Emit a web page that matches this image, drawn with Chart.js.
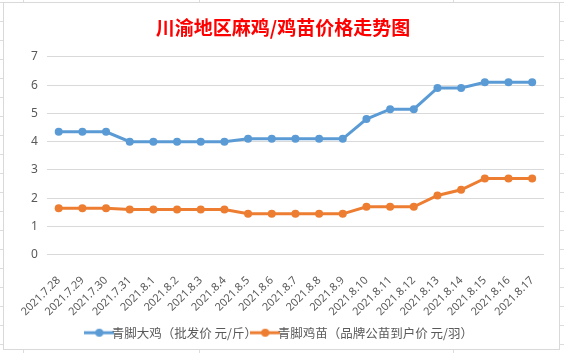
<!DOCTYPE html>
<html>
<head>
<meta charset="utf-8">
<script src="https://cdn.jsdelivr.net/npm/chart.js"></script>
<style>
  html, body { margin: 0; padding: 0; background: #fff; }
  body { width: 564px; height: 353px; position: relative; overflow: hidden;
    background-image: repeating-linear-gradient(to bottom, #dcdcdc 0, #dcdcdc 1px, transparent 1px, transparent 19px);
    background-position: 0 2px; }
  .vline { position: absolute; top: 0; width: 1px; height: 353px; background: #dcdcdc; }
  #box { position: absolute; left: 3px; top: 2px; width: 557px; height: 348px;
    background: #fff; border: 1px solid #d9d9d9; box-sizing: border-box; }
  canvas { display: block; }
</style>
</head>
<body>
<div class="vline" style="left:23px"></div>
<div class="vline" style="left:199px"></div>
<div class="vline" style="left:453px"></div>
<div id="box"><canvas id="c" width="555" height="346"></canvas></div>
<script>
const titleText = '川渝地区麻鸡/鸡苗价格走势图';
const dates = ['2021.7.28', '2021.7.29', '2021.7.30', '2021.7.31', '2021.8.1', '2021.8.2', '2021.8.3',
  '2021.8.4', '2021.8.5', '2021.8.6', '2021.8.7', '2021.8.8', '2021.8.9', '2021.8.10', '2021.8.11',
  '2021.8.12', '2021.8.13', '2021.8.14', '2021.8.15', '2021.8.16', '2021.8.17'];
const chickenName = '青脚大鸡（批发价 元/斤）';
const chickenPrice = [4.35, 4.35, 4.35, 4.0, 4.0, 4.0, 4.0, 4.0, 4.1, 4.1, 4.1, 4.1, 4.1,
  4.8, 5.15, 5.15, 5.9, 5.9, 6.1, 6.1, 6.1];
const chickName = '青脚鸡苗（品牌公苗到户价 元/羽）';
const chickPrice = [1.65, 1.65, 1.65, 1.6, 1.6, 1.6, 1.6, 1.6, 1.45, 1.45, 1.45, 1.45, 1.45,
  1.7, 1.7, 1.7, 2.1, 2.3, 2.7, 2.7, 2.7];
const yTicks = [0, 1, 2, 3, 4, 5, 6, 7];

const BLUE = '#5B9BD5', ORANGE = '#ED7D31';

// small line-with-dot legend marker, like the spreadsheet one
function marker(color) {
  const m = document.createElement('canvas');
  m.width = 30; m.height = 10;
  const g = m.getContext('2d');
  g.strokeStyle = color; g.lineWidth = 3;
  g.beginPath(); g.moveTo(0, 5); g.lineTo(30, 5); g.stroke();
  g.fillStyle = color;
  g.beginPath(); g.arc(15, 5, 4, 0, Math.PI * 2); g.fill();
  return m;
}

function series(label, data, color) {
  return {
    label: label,
    data: data,
    borderColor: color,
    backgroundColor: color,
    borderWidth: 3,
    pointRadius: 4,
    pointBorderWidth: 0,
    pointStyle: 'circle',
    tension: 0
  };
}

new Chart(document.getElementById('c'), {
  type: 'line',
  data: {
    labels: dates,
    datasets: [series(chickenName, chickenPrice, BLUE), series(chickName, chickPrice, ORANGE)]
  },
  options: {
    responsive: false,
    animation: false,
    layout: { padding: { left: 18, right: 15, top: 0, bottom: 0 } },
    plugins: {
      title: {
        display: true,
        text: titleText,
        color: '#FF0000',
        font: { family: '"Noto Sans CJK SC"', size: 19, weight: 'bold' },
        padding: { top: 13, bottom: 18 }
      },
      legend: {
        position: 'bottom',
        labels: {
          usePointStyle: true,
          color: '#595959',
          font: { family: '"Noto Sans CJK SC"', size: 12.5 },
          padding: 2,
          generateLabels: chart => chart.data.datasets.map((ds, i) => ({
            text: ds.label,
            pointStyle: marker(ds.borderColor),
            fontColor: '#595959',
            lineWidth: 0,
            datasetIndex: i
          }))
        }
      },
      tooltip: { enabled: false }
    },
    scales: {
      x: {
        offset: true,
        grid: { display: false },
        border: { display: false },
        // labels may hang a little into the free space above the legend
        afterFit: axis => { axis.height -= 5; },
        ticks: {
          color: '#595959',
          minRotation: 45,
          maxRotation: 45,
          autoSkip: false,
          font: { family: '"Noto Sans", sans-serif', size: 11 },
          padding: 11
        }
      },
      y: {
        min: 0,
        max: 7,
        afterBuildTicks: axis => { axis.ticks = yTicks.map(v => ({ value: v })); },
        grid: { color: '#d9d9d9', drawTicks: false },
        border: { display: false },
        ticks: {
          color: '#595959',
          padding: 9,
          font: { family: '"Noto Sans", sans-serif', size: 12 }
        }
      }
    }
  }
});
</script>
</body>
</html>
